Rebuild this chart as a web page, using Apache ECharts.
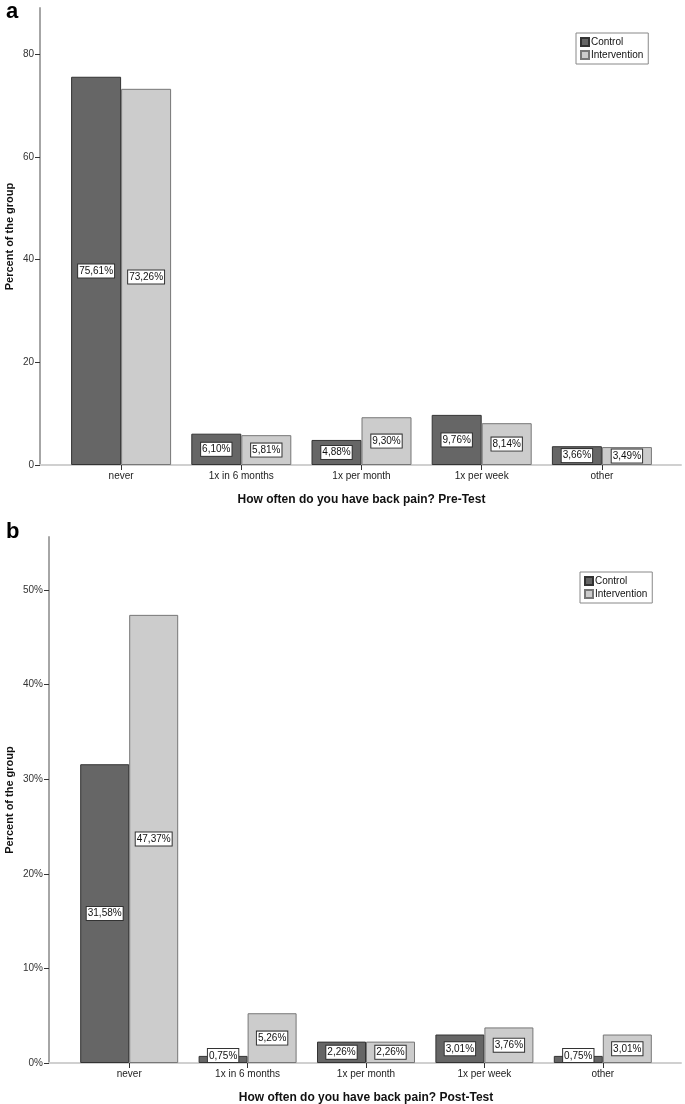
<!DOCTYPE html>
<html>
<head>
<meta charset="utf-8">
<script src="https://cdn.jsdelivr.net/npm/echarts@6/dist/echarts.min.js"></script>
<style>
  html, body { margin: 0; padding: 0; background: #fff; }
  #chart { width: 685px; height: 1104px; }
</style>
</head>
<body>
<div id="chart"></div>
<script>
const categories = ["never", "1x in 6 months", "1x per month", "1x per week", "other"];
const preControl = [75.61, 6.10, 4.88, 9.76, 3.66];
const preIntervention = [73.26, 5.81, 9.30, 8.14, 3.49];
const postControl = [31.58, 0.75, 2.26, 3.01, 0.75];
const postIntervention = [47.37, 5.26, 2.26, 3.76, 3.01];
const preTicks = [0, 20, 40, 60, 80];
const postTicks = [0, 10, 20, 30, 40, 50];

const FONT = "Liberation Sans, Arial, sans-serif";
const NARROW = "Liberation Sans Narrow, Liberation Sans, Arial, sans-serif";

const chart = echarts.init(document.getElementById("chart"));

// value label: white box, comma decimal
const fmt = v => v.toFixed(2).replace(".", ",") + "%";
const barLabel = {
  show: true,
  position: "inside",
  formatter: p => fmt(p.value),
  color: "#111",
  fontFamily: NARROW,
  fontSize: 10,
  backgroundColor: "#fff",
  borderColor: "#333",
  borderWidth: 1,
  padding: [2, 1, 1, 1]
};
// tiny bars: SPSS keeps the box just above the baseline
const toItems = arr => arr.map(v => v < 1.6
  ? { value: v, label: { position: "insideBottom", distance: 1 } }
  : v);

function makeBar(name, data, xi, color, border, width) {
  return {
    name: name,
    type: "bar",
    xAxisIndex: xi,
    yAxisIndex: xi,
    data: toItems(data),
    barWidth: width,
    barGap: "0%",
    itemStyle: { color: color, borderColor: border, borderWidth: 1 },
    label: barLabel,
    emphasis: { disabled: true },
    animation: false
  };
}

function mainY(grid, max, ticks, suffix, offset, nameGap) {
  return {
    type: "value",
    gridIndex: grid,
    min: 0,
    max: max,
    offset: offset,
    name: "Percent of the group",
    nameLocation: "middle",
    nameGap: nameGap,
    nameMoveOverlap: false,
    nameTextStyle: { fontFamily: FONT, fontSize: 11, fontWeight: "bold", color: "#111" },
    axisLine: { show: true, lineStyle: { color: "#a6a6a6", width: 2 } },
    axisTick: { show: true, length: 5, customValues: ticks, lineStyle: { color: "#333" } },
    axisLabel: {
      customValues: ticks,
      formatter: v => v + suffix,
      margin: 6,
      fontFamily: NARROW,
      fontSize: 10,
      color: "#333"
    },
    splitLine: { show: false }
  };
}

function mainX(grid, title) {
  return {
    type: "category",
    gridIndex: grid,
    data: categories,
    name: title,
    nameLocation: "middle",
    nameGap: 29,
    nameTextStyle: { fontFamily: FONT, fontSize: 12, fontWeight: "bold", color: "#111" },
    axisLine: { show: false },
    axisTick: { show: true, alignWithLabel: true, length: 5, lineStyle: { color: "#333" } },
    axisLabel: { margin: 6, fontFamily: NARROW, fontSize: 10, color: "#222" }
  };
}

// extra axes only to draw the long light baseline under each panel
function baseX(grid) {
  return {
    type: "value", gridIndex: grid, min: 0, max: 1,
    axisLine: { show: true, onZero: false, lineStyle: { color: "#d0d0d0", width: 2 } },
    axisTick: { show: false }, axisLabel: { show: false }, splitLine: { show: false }
  };
}
function baseY(grid) {
  return { type: "value", gridIndex: grid, show: false };
}

const legendBox = (left, top) => ({
  left: left,
  top: top,
  orient: "vertical",
  data: ["Control", "Intervention"],
  icon: "rect",
  itemWidth: 8,
  itemHeight: 8,
  itemGap: 3,
  padding: [4, 5, 4, 4],
  borderColor: "#888",
  borderWidth: 1,
  selectedMode: false,
  textStyle: { fontFamily: FONT, fontSize: 10, color: "#111", padding: [0, 0, 0, -3] }
});

const g = (left, right, top, bottom) =>
  ({ left, right, top, bottom, containLabel: false, outerBoundsMode: "none" });

chart.setOption({
  animation: false,
  title: [
    { text: "a", left: 1, top: -4, textStyle: { fontFamily: FONT, fontSize: 22, fontWeight: "bold", color: "#000" } },
    { text: "b", left: 1, top: 516, textStyle: { fontFamily: FONT, fontSize: 22, fontWeight: "bold", color: "#000" } }
  ],
  legend: [legendBox(576, 33), legendBox(580, 572)],
  grid: [
    g(61, 23, 8, 639),
    g(40, 4, 8, 639),
    g(70, 23, 537, 41),
    g(49, 4, 537, 41)
  ],
  xAxis: [
    mainX(0, "How often do you have back pain? Pre-Test"),
    baseX(1),
    mainX(2, "How often do you have back pain? Post-Test"),
    baseX(3)
  ],
  yAxis: [
    mainY(0, 89, preTicks, "", 21, 25),
    baseY(1),
    mainY(2, 55.6, postTicks, "%", 21, 34),
    baseY(3)
  ],
  series: [
    makeBar("Control", preControl, 0, "#666666", "#333333", 50),
    makeBar("Intervention", preIntervention, 0, "#cccccc", "#777777", 50),
    makeBar("Control", postControl, 2, "#666666", "#333333", 49),
    makeBar("Intervention", postIntervention, 2, "#cccccc", "#777777", 49)
  ]
});
</script>
</body>
</html>
